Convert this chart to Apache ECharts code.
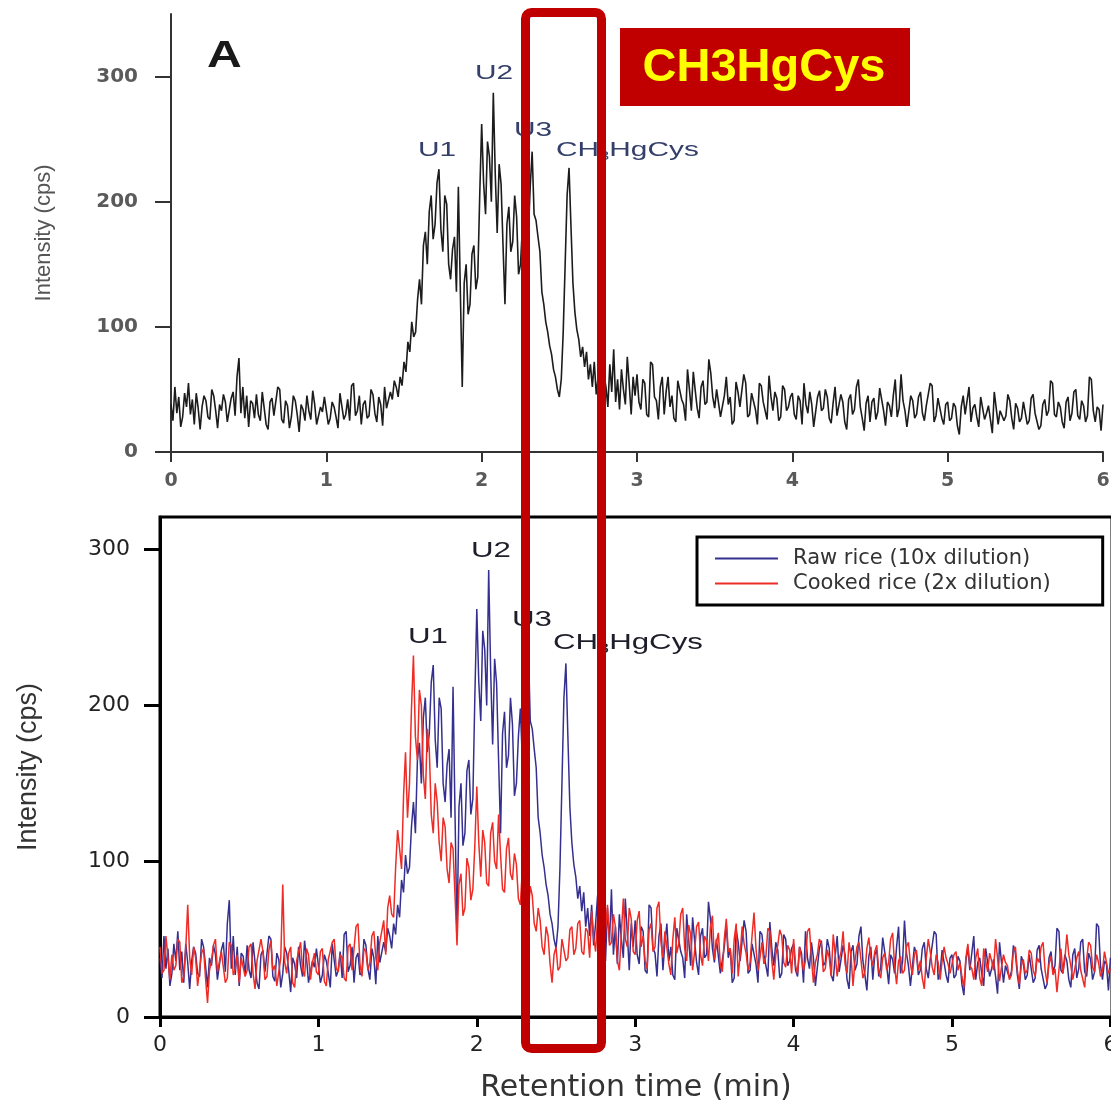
<!DOCTYPE html>
<html>
<head>
<meta charset="utf-8">
<script src="https://cdn.jsdelivr.net/npm/echarts@6/dist/echarts.min.js"></script>
<style>
  html, body { margin: 0; padding: 0; background: #fff; }
  #chart { width: 1111px; height: 1106px; }
</style>
</head>
<body>
<div id="chart"></div>
<script>
// sample spacing of the traces (min)
var step = 0.0125;

// raw rice, 10x dilution (also the trace of panel A)
var rawRice = [
    38, 25, 52, 31, 44, 20, 28, 47, 36, 55, 30, 42, 22, 47, 35, 18, 36, 45, 41, 28,
    26, 50, 45, 33, 19, 38, 33, 46, 40, 24, 24, 43, 48, 29, 60, 75, 31, 52, 27, 45,
    20, 41, 39, 27, 46, 30, 25, 48, 35, 22, 18, 40, 43, 29, 30, 52, 50, 26, 23, 41,
    37, 19, 28, 45, 41, 30, 16, 38, 34, 25, 45, 33, 26, 49, 38, 22, 21, 36, 32, 44,
    44, 22, 27, 40, 36, 28, 19, 47, 48, 26, 30, 42, 25, 53, 55, 29, 33, 45, 22, 38,
    41, 27, 29, 50, 46, 31, 24, 44, 38, 21, 52, 35, 35, 48, 42, 57, 52, 44, 60, 53,
    72, 64, 88, 80, 104, 92, 96, 122, 138, 118, 165, 176, 150, 192, 205, 170, 182, 215, 226, 178,
    160, 205, 198, 150, 138, 162, 172, 128, 212, 130, 52, 135, 150, 110, 118, 158, 165, 130, 140, 205,
    262, 215, 190, 248, 236, 200, 287, 222, 175, 230, 214, 165, 118, 182, 196, 160, 168, 205, 188, 142,
    150, 180, 198, 165, 172, 212, 240, 190, 185, 172, 160, 128, 118, 104, 96, 85, 78, 66, 60, 50,
    44, 58, 96, 150, 205, 227, 180, 135, 112, 98, 90, 76, 84, 68, 80, 58, 70, 52, 72, 46,
    60, 78, 44, 62, 52, 36, 70, 48, 82, 40, 58, 34, 66, 50, 38, 76, 54, 30, 60, 45,
    62, 40, 34, 58, 55, 30, 28, 72, 70, 44, 41, 26, 52, 60, 30, 48, 60, 36, 45, 27,
    24, 57, 58, 42, 38, 25, 66, 50, 33, 64, 49, 35, 27, 52, 57, 38, 40, 74, 63, 44,
    35, 50, 51, 28, 29, 45, 60, 38, 44, 22, 25, 56, 48, 36, 37, 62, 55, 28, 30, 47,
    46, 34, 22, 55, 53, 40, 39, 26, 61, 44, 33, 48, 43, 25, 28, 53, 50, 33, 36, 44,
    47, 30, 26, 45, 41, 22, 55, 38, 31, 48, 38, 20, 20, 44, 49, 33, 35, 50, 44, 27,
    23, 39, 52, 29, 30, 46, 40, 24, 18, 42, 46, 30, 34, 52, 58, 36, 27, 17, 39, 45,
    24, 40, 43, 26, 32, 51, 50, 33, 21, 40, 37, 28, 45, 58, 28, 35, 62, 41, 33, 20,
    19, 45, 41, 27, 30, 44, 48, 31, 25, 37, 38, 55, 53, 24, 29, 43, 35, 27, 22, 38,
    40, 25, 27, 39, 36, 21, 14, 36, 45, 30, 30, 52, 24, 35, 38, 28, 20, 44, 43, 26,
    31, 37, 26, 15, 48, 35, 22, 33, 34, 25, 29, 46, 41, 27, 18, 39, 35, 24, 27, 40,
    39, 22, 25, 43, 46, 31, 30, 18, 21, 38, 42, 29, 33, 57, 55, 30, 28, 40, 36, 24,
    19, 40, 44, 25, 31, 48, 50, 29, 26, 41, 37, 24, 29, 60, 58, 33, 24, 36, 34, 17, 38
];

// cooked rice, 2x dilution
var cookedRice = [
    45, 28, 30, 52, 38, 24, 40, 30, 33, 50, 48, 22, 26, 44, 72, 38, 27, 45, 38, 20,
    20, 41, 44, 25, 9, 30, 36, 46, 50, 29, 28, 42, 41, 22, 25, 48, 46, 27, 31, 40,
    22, 38, 39, 26, 30, 45, 47, 28, 18, 36, 35, 50, 42, 24, 26, 43, 49, 30, 33, 20,
    21, 38, 85, 35, 28, 41, 45, 22, 19, 36, 37, 48, 30, 26, 44, 40, 24, 35, 41, 29,
    27, 42, 44, 23, 20, 37, 36, 48, 50, 31, 29, 40, 38, 25, 23, 45, 47, 30, 31, 58,
    60, 34, 26, 44, 42, 30, 35, 52, 55, 38, 30, 48, 48, 62, 40, 70, 78, 66, 64, 96,
    120, 108, 95, 142, 170, 128, 150, 198, 232, 180, 165, 210, 200, 155, 140, 185, 172, 130, 118, 150,
    138, 112, 100, 128, 122, 95, 86, 112, 108, 78, 46, 85, 92, 65, 70, 102, 96, 75, 82, 110,
    148, 112, 90, 120, 112, 86, 84, 118, 125, 100, 95, 130, 104, 82, 80, 108, 115, 92, 88, 105,
    98, 76, 72, 95, 90, 70, 66, 84, 78, 60, 55, 70, 62, 45, 40, 58, 52, 34, 22, 40,
    45, 30, 32, 50, 50, 36, 38, 56, 58, 40, 44, 60, 62, 42, 40, 57, 55, 38, 68, 52,
    42, 63, 60, 40, 35, 55, 72, 46, 48, 66, 58, 36, 30, 54, 76, 50, 45, 70, 63, 42,
    40, 62, 68, 45, 52, 36, 31, 56, 60, 42, 45, 70, 74, 48, 38, 55, 56, 34, 27, 50,
    64, 41, 47, 66, 70, 44, 36, 59, 53, 30, 42, 58, 61, 40, 33, 52, 49, 36, 58, 65,
    37, 48, 54, 33, 29, 50, 63, 42, 44, 28, 50, 60, 26, 40, 58, 47, 41, 30, 35, 52,
    67, 44, 30, 38, 48, 34, 39, 57, 55, 36, 24, 40, 46, 56, 52, 35, 32, 46, 43, 28,
    50, 33, 28, 45, 44, 30, 36, 55, 57, 38, 22, 35, 40, 50, 47, 29, 31, 43, 38, 26,
    53, 40, 26, 37, 42, 55, 34, 28, 48, 39, 20, 36, 45, 48, 37, 25, 29, 44, 51, 38,
    33, 42, 46, 29, 25, 38, 41, 30, 35, 50, 54, 33, 21, 36, 39, 28, 30, 45, 48, 34,
    27, 40, 43, 30, 36, 25, 18, 38, 50, 42, 32, 27, 40, 35, 24, 36, 45, 38, 34, 28,
    28, 40, 42, 30, 35, 26, 19, 38, 47, 33, 31, 24, 38, 44, 25, 20, 44, 36, 29, 41,
    36, 30, 50, 38, 23, 32, 40, 35, 33, 24, 27, 42, 45, 30, 21, 33, 37, 28, 30, 43,
    41, 30, 26, 38, 35, 45, 48, 30, 22, 34, 39, 27, 31, 16, 30, 44, 28, 37, 53, 40,
    33, 24, 25, 38, 42, 30, 30, 19, 37, 48, 46, 32, 29, 40, 35, 26, 30, 42, 35, 28, 31
];

var yTicks = [0, 100, 200, 300];
var xTicks = [0, 1, 2, 3, 4, 5, 6];
var seriesNames = ['Raw rice (10x dilution)', 'Cooked rice (2x dilution)'];

function toPairs(values) {
    return values.map(function (v, i) {
        return [+(i * step).toFixed(4), v];
    });
}

var chart = echarts.init(document.getElementById('chart'));
var font = "'Liberation Sans', Arial, Helvetica, sans-serif";
var wide = "'DejaVu Sans', 'Liberation Sans', sans-serif";
var narrow = "'Liberation Sans Narrow', 'Liberation Sans', Arial, sans-serif";

// peak label helper (the original lettering is stretched sideways)
function peakLabel(text, x, y, size, color, left) {
    return {
        type: 'text', z: 50, x: x, y: y, scaleX: 1.42,
        style: {
            text: text, font: size + 'px ' + font, fill: color,
            align: left ? 'left' : 'center', verticalAlign: 'middle',
            rich: { s: { fontSize: Math.round(size * 0.62), padding: [13, 0, 0, 0], fill: color } }
        }
    };
}

var option = {
    backgroundColor: '#fff',
    animation: false,
    textStyle: { fontFamily: font },
    legend: {
        data: seriesNames,
        orient: 'vertical',
        left: 697,
        top: 537,
        padding: [11, 52, 11, 18],
        itemGap: 4,
        itemWidth: 63,
        itemHeight: 2,
        icon: 'rect',
        borderColor: '#000',
        borderWidth: 3,
        textStyle: {
            fontFamily: wide,
            fontSize: 21,
            color: '#333',
            padding: [0, 0, 0, 10]
        }
    },
    grid: [
        { left: 171, top: 14, width: 932, height: 438, outerBoundsMode: 'none' },
        { left: 160, top: 517, width: 952, height: 500, outerBoundsMode: 'none',
          show: true, borderColor: '#000', borderWidth: 3 }
    ],
    xAxis: [
        {
            gridIndex: 0, type: 'value', min: 0, max: 6, interval: 1,
            splitLine: { show: false },
            axisLine: { lineStyle: { color: '#333', width: 2 } },
            axisTick: { length: 10, lineStyle: { color: '#333', width: 2 } },
            axisLabel: { fontSize: 19, color: '#5a5a5a', margin: 20, fontWeight: 'bold', fontFamily: wide }
        },
        {
            gridIndex: 1, type: 'value', min: 0, max: 6.01, interval: 1,
            splitLine: { show: false },
            axisLine: { lineStyle: { color: '#000', width: 3 } },
            axisTick: { length: 10, customValues: xTicks, lineStyle: { color: '#000', width: 3 } },
            axisLabel: { fontSize: 22, color: '#222', margin: 17, customValues: xTicks, fontFamily: wide },
            name: 'Retention time (min)',
            nameLocation: 'middle',
            nameGap: 56,
            nameTextStyle: { fontSize: 30, color: '#333', fontFamily: wide }
        }
    ],
    yAxis: [
        {
            gridIndex: 0, type: 'value', min: 0, max: 350,
            splitLine: { show: false },
            axisLine: { show: true, lineStyle: { color: '#333', width: 2 } },
            axisTick: { show: true, length: 16, customValues: yTicks, lineStyle: { color: '#333', width: 2 } },
            axisLabel: { fontSize: 20, color: '#5a5a5a', margin: 33, fontWeight: 'bold', fontFamily: wide,
                customValues: yTicks },
            name: 'Intensity (cps)',
            nameLocation: 'middle',
            nameGap: 116,
            nameTextStyle: { fontSize: 22, color: '#555', fontFamily: narrow }
        },
        {
            gridIndex: 1, type: 'value', min: 0, max: 321,
            splitLine: { show: false },
            axisLine: { show: true, lineStyle: { color: '#000', width: 3 } },
            axisTick: { show: true, length: 16, customValues: yTicks, lineStyle: { color: '#000', width: 3 } },
            axisLabel: { fontSize: 22, color: '#222', margin: 30, customValues: yTicks, fontFamily: wide },
            name: 'Intensity (cps)',
            nameLocation: 'middle',
            nameGap: 118,
            nameTextStyle: { fontSize: 27, color: '#333', fontFamily: narrow }
        }
    ],
    series: [
        {
            name: 'Panel A',
            type: 'line',
            xAxisIndex: 0, yAxisIndex: 0,
            data: toPairs(rawRice),
            symbol: 'none',
            lineStyle: { color: '#1c1c1c', width: 1.6 }
        },
        {
            name: seriesNames[0],
            type: 'line',
            xAxisIndex: 1, yAxisIndex: 1,
            data: toPairs(rawRice),
            symbol: 'none',
            itemStyle: { color: '#35308f' },
            lineStyle: { color: '#35308f', width: 1.5 }
        },
        {
            name: seriesNames[1],
            type: 'line',
            xAxisIndex: 1, yAxisIndex: 1,
            data: toPairs(cookedRice),
            symbol: 'none',
            itemStyle: { color: '#ee2b25' },
            lineStyle: { color: '#ee2b25', width: 1.5 }
        }
    ],
    graphic: [
        { type: 'text', z: 50, x: 207, y: 38, scaleX: 1.3,
          style: { text: 'A', font: "bold 37px " + font, fill: '#1a1a1a' } },
        // panel A peak labels
        peakLabel('U1', 437, 150, 21, '#34406a'),
        peakLabel('U2', 494, 73, 21, '#34406a'),
        peakLabel('U3', 533, 130, 21, '#34406a'),
        peakLabel('CH{s|3}HgCys', 556, 150, 21, '#34406a', true),
        // lower panel peak labels
        peakLabel('U1', 428, 637, 22, '#1e1e2a'),
        peakLabel('U2', 491, 551, 22, '#1e1e2a'),
        peakLabel('U3', 532, 620, 22, '#1e1e2a'),
        peakLabel('CH{s|3}HgCys', 553, 643, 22, '#1e1e2a', true),
        // highlight frame
        { type: 'rect', z: 100, shape: { x: 525.5, y: 12.5, width: 76, height: 1036, r: 6 },
          style: { fill: null, stroke: '#c00000', lineWidth: 9 } },
        { type: 'rect', z: 100, shape: { x: 620, y: 28, width: 290, height: 78 },
          style: { fill: '#c00000' } },
        { type: 'text', z: 101, x: 764, y: 68,
          style: { text: 'CH3HgCys', font: "bold 47px " + font, fill: '#ffff00', align: 'center', verticalAlign: 'middle' } }
    ]
};

chart.setOption(option);
</script>
</body>
</html>
